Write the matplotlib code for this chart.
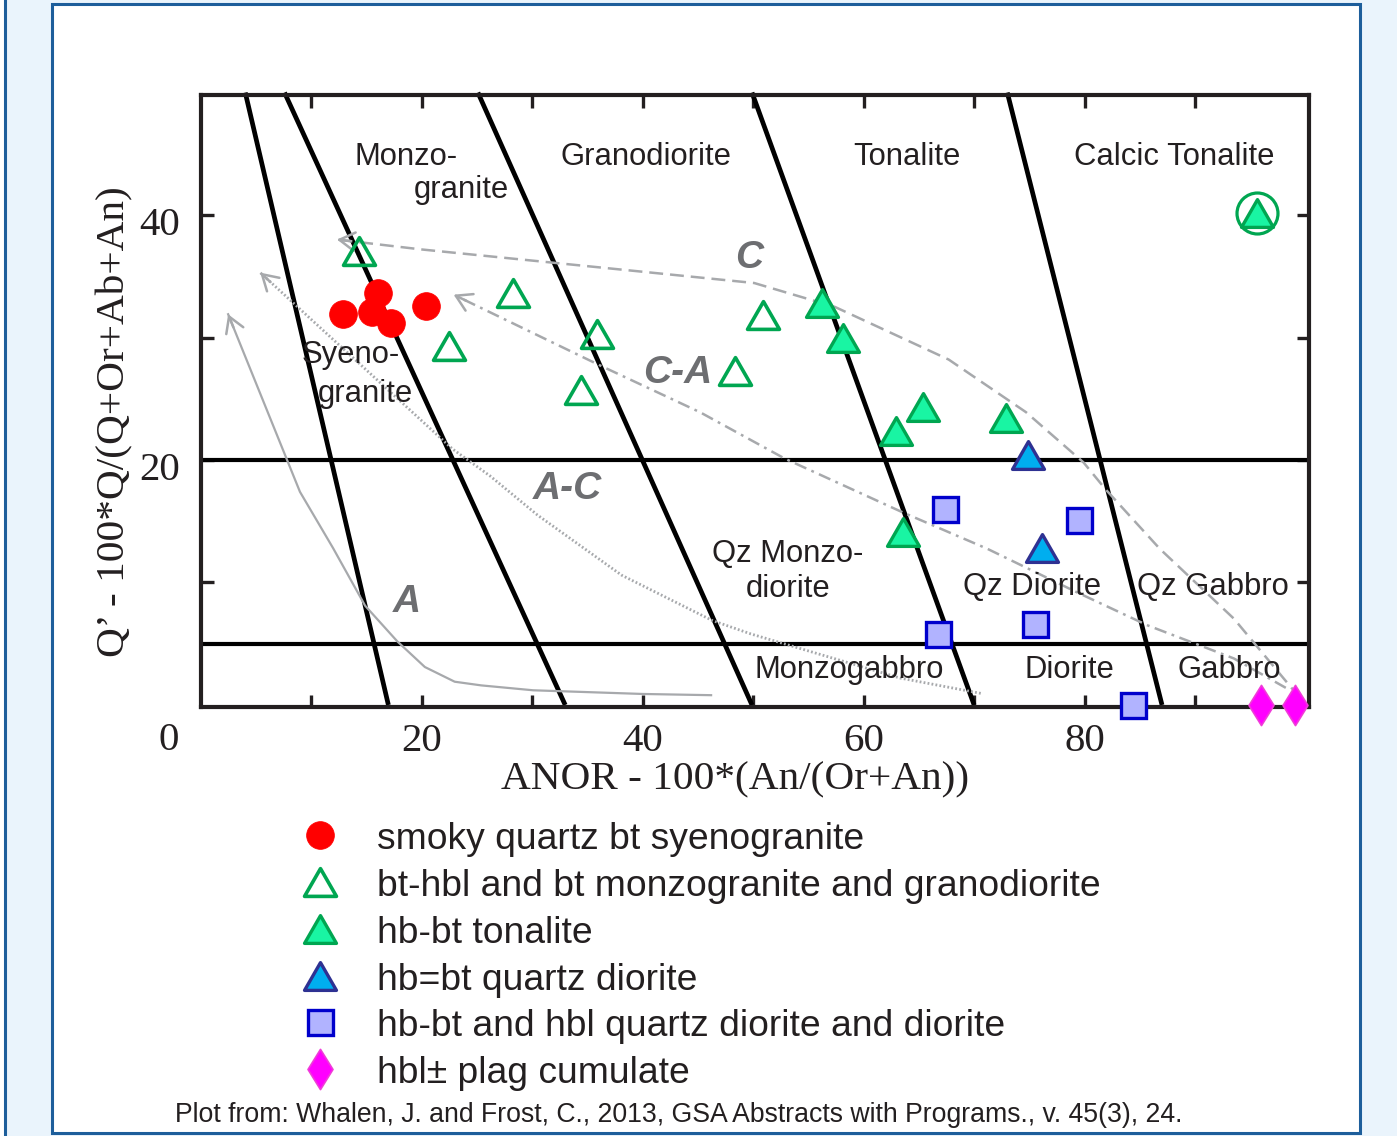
import matplotlib
matplotlib.use("Agg")
import matplotlib.pyplot as plt
from matplotlib.patches import Rectangle
from matplotlib.path import Path
from matplotlib.transforms import ScaledTranslation

W, H, DPI = 1397, 1136, 100

# ---------------- data ----------------
# ANOR (x) and Q' (y) of the analysed samples
syeno_x = [12.9, 16.1, 15.5, 17.2, 20.4]
syeno_y = [31.9, 33.6, 32.1, 31.2, 32.6]

monzo_x = [14.3, 22.5, 28.3, 35.9, 34.4, 50.9, 48.4]
monzo_y = [37.1, 29.3, 33.6, 30.3, 25.7, 31.8, 27.3]

tonal_x = [56.2, 58.1, 62.9, 65.4, 72.9, 63.6, 95.6]
tonal_y = [32.8, 30.0, 22.4, 24.3, 23.4, 14.1, 40.2]

qzdio_x = [74.9, 76.1]
qzdio_y = [20.4, 12.8]

dio_x = [67.4, 79.5, 66.7, 75.5, 84.4]
dio_y = [16.0, 15.1, 5.8, 6.6, 0.0]

cumul_x = [96.0, 99.0]
cumul_y = [0.0, 0.0]

circled_x = [95.6]
circled_y = [40.2]

# field boundaries: ANOR where each boundary meets Q'=50 and Q'=0
bound_top = [4.05, 7.6, 25.1, 49.9, 73.0]
bound_bot = [17.0, 33.0, 49.9, 70.0, 87.0]
bound_q = [50.0, 0.0]
hline_q = [20.0, 5.0]

# differentiation trends (listed from start to arrow tip)
trend_A_x = [46.2, 40.0, 30.1, 25.4, 23.0, 20.3, 17.8, 14.9, 12.0, 9.0, 2.5]
trend_A_y = [0.8, 0.9, 1.2, 1.6, 1.9, 3.1, 5.2, 8.1, 12.8, 17.4, 31.9]

trend_AC_x = [70.6, 63.3, 49.8, 46.3, 38.1, 30.5, 26.2, 22.8, 5.4]
trend_AC_y = [0.95, 2.2, 5.8, 6.9, 10.6, 15.5, 18.7, 20.9, 35.3]

trend_CA_x = [98.2, 93.5, 85.7, 79.3, 71.2, 63.6, 52.9, 45.2, 36.2, 22.9]
trend_CA_y = [1.4, 3.8, 6.5, 9.2, 12.75, 15.7, 20.1, 23.9, 27.7, 33.5]

trend_C_x = [99.5, 93.5, 86.8, 81.9, 79.9, 74.7, 67.7, 57.4, 50.1, 32.0, 19.9, 12.35]
trend_C_y = [0.55, 7.05, 12.75, 17.6, 19.8, 23.9, 28.2, 32.5, 34.45, 36.1, 37.2, 38.0]

x_ticks = [10, 20, 30, 40, 50, 60, 70, 80, 90]
x_ticklabels = ["", "20", "", "40", "", "60", "", "80", ""]
y_ticks = [10, 20, 30, 40]
y_ticklabels = ["", "20", "", "40"]

field_names = ["Monzo-", "granite", "Granodiorite", "Tonalite", "Calcic Tonalite",
               "Syeno-", "granite", "Qz Monzo-", "diorite", "Qz Diorite",
               "Qz Gabbro", "Monzogabbro", "Diorite", "Gabbro"]
field_x = [18.6, 23.6, 40.3, 63.9, 88.1, 13.6, 14.9, 53.1, 53.2, 75.2, 91.6, 58.7, 78.6, 93.1]
field_y = [44.1, 41.4, 44.1, 44.1, 44.1, 27.9, 24.7, 11.7, 8.8, 9.0, 9.0, 2.2, 2.2, 2.2]

trend_names = ["C", "C-A", "A-C", "A"]
trend_lx = [49.6, 43.2, 33.2, 18.7]
trend_ly = [35.7, 26.3, 16.8, 7.6]

legend_labels = ["smoky quartz bt syenogranite",
                 "bt-hbl and bt monzogranite and granodiorite",
                 "hb-bt tonalite",
                 "hb=bt quartz diorite",
                 "hb-bt and hbl quartz diorite and diorite",
                 "hbl\u00b1 plag cumulate"]

# ---------------- styles ----------------
SANS = "Liberation Sans"
SERIF = "Liberation Serif"
INK = "#231F20"
GREY = "#A7A9AC"
TRI = Path([(0, 1), (-1.15, -1), (1.15, -1), (0, 1)],
           [Path.MOVETO, Path.LINETO, Path.LINETO, Path.CLOSEPOLY])
DIAM = Path([(0, 1), (0.62, 0), (0, -1), (-0.62, 0), (0, 1)],
            [Path.MOVETO, Path.LINETO, Path.LINETO, Path.LINETO, Path.CLOSEPOLY])

styles = [
    dict(marker="o", ms=20, mfc="#FF0000", mec="#FF0000", mew=0.5),
    dict(marker=TRI, ms=23, mfc="none", mec="#00A651", mew=2.6),
    dict(marker=TRI, ms=23, mfc="#19F5A3", mec="#00A651", mew=2.4),
    dict(marker=TRI, ms=23, mfc="#00AEEF", mec="#2E3192", mew=2.4),
    dict(marker="s", ms=18, mfc="#B1B3FF", mec="#0000CC", mew=2.4),
    dict(marker=DIAM, ms=29, mfc="#FF00FF", mec="#F03CD8", mew=1.2),
]
series = [(syeno_x, syeno_y), (monzo_x, monzo_y), (tonal_x, tonal_y),
          (qzdio_x, qzdio_y), (dio_x, dio_y), (cumul_x, cumul_y)]


def px(x, y):
    """pixel position (from top-left) -> figure fraction"""
    return x / W, 1 - y / H


plt.rcParams["lines.scale_dashes"] = False
fig = plt.figure(figsize=(W / DPI, H / DPI), dpi=DPI, facecolor="#EAF4FC")

# page panels (behind everything)
fig.patches.append(Rectangle(px(52, 1133), (1360 - 52) / W, (1133 - 4) / H,
                             transform=fig.transFigure, facecolor="white",
                             edgecolor="#1D5E9B", lw=2.2, zorder=-5))
fig.patches.append(Rectangle((-30 / W, -0.1), 35 / W, 1.2,
                             transform=fig.transFigure, facecolor="white",
                             edgecolor="#1D5E9B", lw=2.2, zorder=-5))

left, right, top, bottom = 200.5, 1309, 95, 706.7
ax = fig.add_axes([left / W, 1 - bottom / H, (right - left) / W, (bottom - top) / H])
ax.set_xlim(0, 100.3)
ax.set_ylim(-0.14, 49.8)
ax.patch.set_alpha(0)

for s in ax.spines.values():
    s.set_linewidth(3.0)
    s.set_color(INK)

ax.set_xticks(x_ticks, labels=x_ticklabels)
ax.set_yticks(y_ticks, labels=y_ticklabels)
ax.tick_params(direction="in", length=9, width=2.4, color=INK, top=True, right=True,
               labelsize=29.5, labelcolor=INK)
ax.tick_params(axis="x", pad=12)
ax.tick_params(axis="y", pad=15)
for lab in ax.get_xticklabels() + ax.get_yticklabels():
    lab.set_family(SERIF)
for lab in ax.get_yticklabels():
    lab.set_transform(lab.get_transform() + ScaledTranslation(0, -4 / 72, fig.dpi_scale_trans))

# classification grid
for xt, xb in zip(bound_top, bound_bot):
    ax.plot([xt, xb], bound_q, color="black", lw=3.4, solid_capstyle="butt",
            clip_on=False, zorder=2)
for q in hline_q:
    ax.axhline(q, color="black", lw=3.0, zorder=2)

# trends
trend_specs = [
    (trend_A_x, trend_A_y, dict(ls="-", lw=1.6)),
    (trend_AC_x, trend_AC_y, dict(ls=(0, (1.3, 1.6)), lw=2.0)),
    (trend_CA_x, trend_CA_y, dict(ls=(0, (9, 4, 2, 4)), lw=1.8)),
    (trend_C_x, trend_C_y, dict(ls=(0, (10, 5)), lw=1.8)),
]
for tx, ty, st in trend_specs:
    ax.plot(tx, ty, color=GREY, zorder=3, **st)
    # arrow head at the last point, aligned with the final segment
    p1 = ax.transData.transform((tx[-1], ty[-1]))
    p0 = ax.transData.transform((tx[-2], ty[-2]))
    d = p0 - p1
    d = d / (d ** 2).sum() ** 0.5
    back = ax.transData.inverted().transform(p1 + d * 14)
    ax.annotate("", xy=(tx[-1], ty[-1]), xytext=back,
                arrowprops=dict(arrowstyle="->,head_length=0.5,head_width=0.3",
                                color=GREY, lw=1.8, shrinkA=0, shrinkB=0,
                                mutation_scale=22), zorder=3)

# samples
for (sx, sy), st in zip(series, styles):
    ax.plot(sx, sy, ls="none", clip_on=False, zorder=5, **st)
ax.plot(circled_x, circled_y, ls="none", marker="o", ms=29.5, mfc="none",
        mec="#00A651", mew=2.3, zorder=5)

# field names
for name, fx, fy in zip(field_names, field_x, field_y):
    ax.text(fx, fy, name, ha="center", va="baseline", fontsize=22.3,
            family=SANS, color=INK, zorder=4)
for name, lx, ly in zip(trend_names, trend_lx, trend_ly):
    ax.text(lx, ly, name, ha="center", va="baseline", fontsize=28,
            family=SANS, weight="bold", style="italic", color="#6D6E71", zorder=4)

# axis titles
fig.text(*px(735, 780), "ANOR - 100*(An/(Or+An))", ha="center", va="center",
         fontsize=29.7, family=SERIF, color=INK)
fig.text(*px(115, 422), "Q\u2019 - 100*Q/(Q+Or+Ab+An)", ha="center", va="center",
         rotation=90, fontsize=29.7, family=SERIF, color=INK)
fig.text(*px(169, 741), "0", ha="center", va="center", fontsize=29.5,
         family=SERIF, color=INK)

# legend
lax = fig.add_axes([0, 0, 1, 1])
lax.set_xlim(0, W)
lax.set_ylim(H, 0)
lax.axis("off")
rows = [835, 882, 929, 976, 1022, 1069]
for r, st, lab in zip(rows, styles, legend_labels):
    lax.plot([320], [r], ls="none", **st)
    lax.text(377, r + 14, lab, ha="left", va="baseline", fontsize=26.8,
             family=SANS, color=INK)

fig.text(*px(679, 1122.5), "Plot from: Whalen, J. and Frost, C., 2013, GSA Abstracts with Programs., v. 45(3), 24.",
         ha="center", va="baseline", fontsize=19.2, family=SANS, color=INK)

fig.savefig("out.png", dpi=DPI, facecolor=fig.get_facecolor())
